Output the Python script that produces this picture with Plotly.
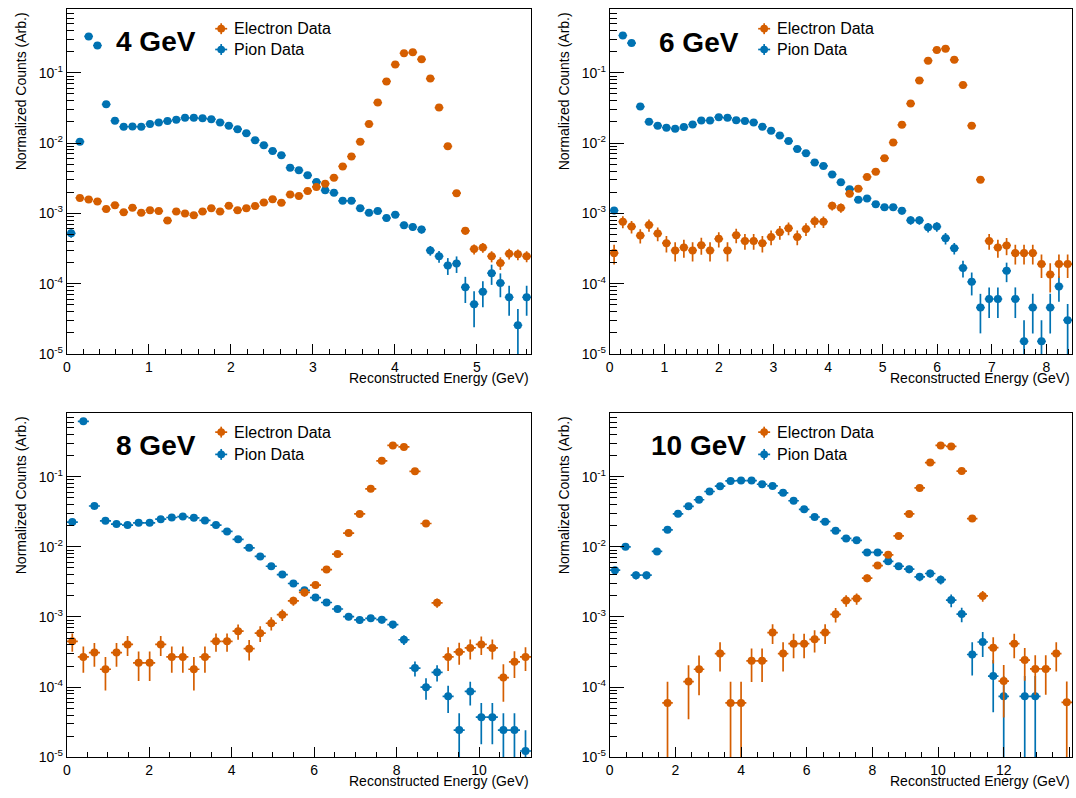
import numpy as np
import plotly.graph_objects as go

# ---------------- data ----------------
# 4 GeV beam
E4_XMAX, E4_NBINS = 5.66, 53
ele4 = [None, 0.00166, 0.00158, 0.00148, 0.00115, 0.00131, 0.00104, 0.0012, 0.00102, 0.00111,
        0.00108, 0.00079, 0.00106, 0.00100, 0.00094, 0.00106, 0.00118, 0.00106, 0.00128, 0.00111,
        0.00118, 0.00127, 0.00143, 0.00159, 0.00142, 0.00185, 0.00177, 0.00209, 0.00238, 0.00265,
        0.00322, 0.00466, 0.00645, 0.0105, 0.0187, 0.0377, 0.0755, 0.131, 0.190, 0.196,
        0.156, 0.083, 0.032, 0.0090, 0.00194, 0.000564, 0.00031, 0.000327, 0.000245, 0.000197,
        0.000267, 0.000261, 0.000245]
ele4_err = [None, 1.16e-4, 1.13e-4, 1.09e-4, 0.96e-4, 1.03e-4, 0.92e-4, 0.98e-4, 0.91e-4, 0.95e-4,
            0.93e-4, 0.8e-4, 0.92e-4, 0.9e-4, 0.87e-4, 0.92e-4, 0.98e-4, 0.92e-4, 1.02e-4, 0.95e-4,
            0.98e-4, 1.01e-4, 1.07e-4, 1.13e-4, 1.07e-4, 1.22e-4, 1.19e-4, 1.3e-4, 1.39e-4, 1.46e-4,
            1.61e-4, 1.94e-4, 2.28e-4, 2.9e-4, 3.9e-4, 5.5e-4, 7.8e-4, 1.03e-3, 1.24e-3, 1.26e-3,
            1.12e-3, 8.2e-4, 5.1e-4, 2.7e-4, 1.25e-4, 0.67e-4, 0.5e-4, 0.51e-4, 0.44e-4, 0.4e-4,
            0.46e-4, 0.46e-4, 0.44e-4]
pion4 = [0.00052, 0.0105, 0.33, 0.245, 0.0357, 0.0208, 0.0171, 0.0172, 0.0171, 0.0187,
         0.0197, 0.0206, 0.0215, 0.0229, 0.0229, 0.0225, 0.0219, 0.0197, 0.0177, 0.0158,
         0.0138, 0.0110, 0.0093, 0.0077, 0.0067, 0.00446, 0.0041, 0.00348, 0.0028, 0.00213,
         0.00196, 0.00151, 0.00151, 0.00118, 0.00102, 0.00108, 0.00086, 0.00096, 0.00068, 0.00064,
         0.00059, 0.000297, 0.000245, 0.000182, 0.000193, 8.9e-5, 5.1e-5, 7.7e-5, 1.41e-4, 1.02e-4,
         6.4e-5, 2.56e-5, 6.4e-5]
pion4_err = [7e-5, 3.2e-4, 1.8e-3, 1.6e-3, 6e-4, 4.6e-4, 4.1e-4, 4.1e-4, 4.1e-4, 4.3e-4,
             4.4e-4, 4.5e-4, 4.6e-4, 4.8e-4, 4.8e-4, 4.7e-4, 4.7e-4, 4.4e-4, 4.2e-4, 4e-4,
             3.7e-4, 3.3e-4, 3e-4, 2.8e-4, 2.6e-4, 2.1e-4, 2e-4, 1.9e-4, 1.7e-4, 1.5e-4,
             1.4e-4, 1.2e-4, 1.2e-4, 1.1e-4, 1e-4, 1e-4, 0.93e-4, 0.98e-4, 0.82e-4, 0.8e-4,
             0.77e-4, 0.47e-4, 0.46e-4, 0.49e-4, 0.51e-4, 3.6e-5, 2.7e-5, 3.1e-5, 4.5e-5, 3.8e-5,
             2.9e-5, 1.8e-5, 2.9e-5]

# 6 GeV beam
E6_XMAX, E6_NBINS = 8.47, 53
ele6 = [0.000272, 0.000762, 0.000648, 0.000484, 0.000684, 0.000516, 0.000377, 0.000297, 0.000327, 0.000297,
        0.000353, 0.000297, 0.000434, 0.000297, 0.000489, 0.000406, 0.000406, 0.000377, 0.000463, 0.00054,
        0.000614, 0.000463, 0.0006, 0.00077, 0.000762, 0.00128, 0.0012, 0.00191, 0.00225, 0.0033,
        0.00392, 0.00611, 0.0102, 0.0182, 0.0365, 0.078, 0.149, 0.211, 0.221, 0.153,
        0.067, 0.0177, 0.00302, 0.000406, 0.000327, 0.00035, 0.000272, 0.000272, 0.000272, 0.00019,
        0.000135, 0.00019, 0.00019]
ele6_err = [0.85e-4, 1.5e-4, 1.3e-4, 1.1e-4, 1.35e-4, 1.15e-4, 1.0e-4, 0.9e-4, 0.93e-4, 0.9e-4,
            0.96e-4, 0.9e-4, 1.07e-4, 0.9e-4, 1.13e-4, 1.03e-4, 1.03e-4, 1.0e-4, 1.1e-4, 1.2e-4,
            1.27e-4, 1.1e-4, 1.25e-4, 1.43e-4, 1.42e-4, 1.8e-4, 1.8e-4, 2.2e-4, 2.4e-4, 3e-4,
            3.2e-4, 4e-4, 5e-4, 7e-4, 1e-3, 1.4e-3, 2e-3, 2.4e-3, 2.4e-3, 2e-3,
            1.3e-3, 7e-4, 2.8e-4, 1.03e-4, 0.93e-4, 0.96e-4, 0.85e-4, 0.85e-4, 0.85e-4, 0.7e-4,
            0.6e-4, 0.7e-4, 0.7e-4]
pion6 = [0.0011, 0.34, 0.265, 0.0331, 0.0201, 0.0177, 0.0166, 0.016, 0.0169, 0.0184,
         0.021, 0.021, 0.0234, 0.0229, 0.0212, 0.0206, 0.0197, 0.0171, 0.015, 0.0128,
         0.0107, 0.00828, 0.00719, 0.0053, 0.00474, 0.00359, 0.00277, 0.00221, 0.00156, 0.00163,
         0.00135, 0.00122, 0.00122, 0.00109, 0.000797, 0.000797, 0.000634, 0.000648, 0.000444, 0.00032,
         0.000167, 0.000106, 4.56e-5, 6.04e-5, 6.04e-5, 0.000152, 6.04e-5, 1.51e-5, 4.56e-5, 1.51e-5,
         4.56e-5, 9.12e-5, 3.02e-5]
pion6_err = [1.29e-4, 2.27e-3, 2e-3, 7.1e-4, 5.5e-4, 5.2e-4, 5e-4, 4.9e-4, 5.1e-4, 5.3e-4,
             5.6e-4, 5.6e-4, 6e-4, 5.9e-4, 5.7e-4, 5.6e-4, 5.5e-4, 5.1e-4, 4.8e-4, 4.4e-4,
             4e-4, 3.5e-4, 3.3e-4, 2.85e-4, 2.7e-4, 2.3e-4, 2.05e-4, 1.83e-4, 1.54e-4, 1.57e-4,
             1.43e-4, 1.36e-4, 1.36e-4, 1.29e-4, 1.1e-4, 1.1e-4, 0.98e-4, 0.99e-4, 0.83e-4, 0.6e-4,
             0.45e-4, 3.8e-5, 2.6e-5, 2.8e-5, 2.8e-5, 4.7e-5, 2.8e-5, 1.5e-5, 2.6e-5, 1.5e-5,
             2.6e-5, 3.6e-5, 2.1e-5]

# 8 GeV beam
E8_XMAX, E8_NBINS = 11.26, 42
ele8 = [0.00045, 0.00027, 0.000311, 0.00018, 0.000311, 0.000407, 0.000222, 0.000222, 0.000407, 0.00027,
        0.00027, 0.00018, 0.00027, 0.00045, 0.00045, 0.000628, 0.000354, 0.000589, 0.000815, 0.00108,
        0.0017, 0.00224, 0.00285, 0.00474, 0.00788, 0.0157, 0.0294, 0.067, 0.168, 0.279,
        0.265, 0.119, 0.0215, 0.00159, 0.00027, 0.000318, 0.000362, 0.000407, 0.000362, 0.000137,
        0.00023, 0.00027]
ele8_err = [1.3e-4, 1.1e-4, 1.15e-4, 0.9e-4, 1.15e-4, 1.3e-4, 1.0e-4, 1.0e-4, 1.3e-4, 1.1e-4,
            1.1e-4, 0.9e-4, 1.1e-4, 1.3e-4, 1.3e-4, 1.55e-4, 1.15e-4, 1.5e-4, 1.75e-4, 2e-4,
            2.5e-4, 2.9e-4, 3.3e-4, 4.2e-4, 5.4e-4, 7.7e-4, 1.05e-3, 1.6e-3, 2.5e-3, 3.2e-3,
            3.2e-3, 2.1e-3, 9e-4, 2.4e-4, 1.0e-4, 1.1e-4, 1.15e-4, 1.2e-4, 1.15e-4, 0.75e-4,
            0.95e-4, 1.0e-4]
pion8 = [0.0225, 0.615, 0.0382, 0.0235, 0.0211, 0.0204, 0.022, 0.022, 0.0248, 0.0262,
         0.027, 0.0259, 0.0238, 0.0204, 0.0166, 0.0128, 0.00968, 0.00731, 0.00529, 0.00403,
         0.003, 0.0024, 0.00189, 0.00161, 0.0013, 0.00101, 0.000908, 0.000958, 0.000917, 0.00078,
         0.000474, 0.000187, 0.0001, 0.000163, 7.4e-5, 2.45e-5, 8.7e-5, 3.74e-5, 3.74e-5, 2.45e-5,
         2.45e-5, 1.23e-5]
pion8_err = [5.3e-4, 2.76e-3, 6.9e-4, 5.4e-4, 5.1e-4, 5e-4, 5.2e-4, 5.2e-4, 5.5e-4, 5.7e-4,
             5.8e-4, 5.65e-4, 5.4e-4, 5e-4, 4.5e-4, 4e-4, 3.5e-4, 3e-4, 2.55e-4, 2.2e-4,
             1.9e-4, 1.7e-4, 1.5e-4, 1.4e-4, 1.27e-4, 1.1e-4, 1.06e-4, 1.09e-4, 1.06e-4, 0.98e-4,
             0.76e-4, 0.45e-4, 3.4e-5, 4.3e-5, 3.1e-5, 1.8e-5, 3.2e-5, 2.2e-5, 2.2e-5, 1.8e-5,
             1.8e-5, 1.2e-5]

# 10 GeV beam
E10_XMAX, E10_NBINS = 14.08, 44
ele10 = [None, None, None, None, None, 5.96e-5, None, 0.00012, 0.00018, None,
         0.000301, 5.96e-5, 5.96e-5, 0.000237, 0.000237, 0.0006, 0.000301, 0.000417, 0.000417, 0.00048,
         0.0006, 0.00109, 0.00172, 0.00183, 0.00358, 0.0054, 0.0077, 0.0143, 0.0294, 0.0692,
         0.159, 0.279, 0.27, 0.12, 0.0253, 0.002, 0.000366, 0.000122, 0.000417, 0.000243,
         0.000182, 0.000182, 0.000301, 6.08e-5]
ele10_err = [None, None, None, None, None, 6e-5, None, 0.85e-4, 1.03e-4, None,
             1.34e-4, 6e-5, 6e-5, 1.19e-4, 1.19e-4, 1.89e-4, 1.34e-4, 1.58e-4, 1.58e-4, 1.69e-4,
             1.89e-4, 2.55e-4, 3.2e-4, 3.3e-4, 4.6e-4, 5.7e-4, 6.8e-4, 9.2e-4, 1.3e-3, 2e-3,
             3.1e-3, 4.1e-3, 4e-3, 2.7e-3, 1.23e-3, 3.45e-4, 1.48e-4, 0.85e-4, 1.58e-4, 1.2e-4,
             1.04e-4, 1.04e-4, 1.34e-4, 6e-5]
pion10 = [0.00465, 0.01, 0.00394, 0.00394, 0.0086, 0.0175, 0.0295, 0.0378, 0.0469, 0.0615,
          0.0731, 0.0869, 0.088, 0.088, 0.078, 0.0739, 0.0589, 0.0454, 0.0343, 0.0266,
          0.0228, 0.017, 0.0132, 0.0124, 0.00832, 0.00832, 0.00621, 0.00529, 0.0048, 0.00374,
          0.00417, 0.0034, 0.00174, 0.0011, 0.000292, 0.00044, 0.000144, 7.4e-5, None, 7.4e-5,
          7.4e-5, None, None, None]
pion10_err = [5.7e-4, 8.3e-4, 5.2e-4, 5.2e-4, 7.7e-4, 1.1e-3, 1.43e-3, 1.62e-3, 1.8e-3, 2.07e-3,
              2.25e-3, 2.46e-3, 2.47e-3, 2.47e-3, 2.33e-3, 2.27e-3, 2.02e-3, 1.78e-3, 1.54e-3, 1.36e-3,
              1.26e-3, 1.09e-3, 9.6e-4, 9.3e-4, 7.6e-4, 7.6e-4, 6.6e-4, 6.1e-4, 5.8e-4, 5.1e-4,
              5.4e-4, 4.9e-4, 3.6e-4, 2.6e-4, 1.45e-4, 1.7e-4, 1.0e-4, 7e-5, None, 7e-5,
              7e-5, None, None, None]

panel_labels = ['4 GeV', '6 GeV', '8 GeV', '10 GeV']
legend_names = ['Electron Data', 'Pion Data']
y_tick_vals = [1e-5, 1e-4, 1e-3, 1e-2, 1e-1]
y_tick_text = ['10<sup>-5</sup>', '10<sup>-4</sup>', '10<sup>-3</sup>', '10<sup>-2</sup>', '10<sup>-1</sup>']
x_title = 'Reconstructed Energy (GeV)'
y_title = 'Normalized Counts (Arb.)'

# ---------------- style / layout ----------------
W, H = 1076, 798
ORANGE = '#D55E00'
BLUE = '#0072B2'
FONT = 'Liberation Sans, Arial, Helvetica, sans-serif'

panels = [
    dict(xmax=E4_XMAX, nb=E4_NBINS, ele=ele4, ele_err=ele4_err, pion=pion4, pion_err=pion4_err,
         box=(63, 529, 9, 357.5), xdt=1, xminor=0.2, lab=(110, 42), leg_y=(29, 50)),
    dict(xmax=E6_XMAX, nb=E6_NBINS, ele=ele6, ele_err=ele6_err, pion=pion6, pion_err=pion6_err,
         box=(608, 1072, 9, 357.5), xdt=1, xminor=0.2, lab=(655, 43), leg_y=(29, 50)),
    dict(xmax=E8_XMAX, nb=E8_NBINS, ele=ele8, ele_err=ele8_err, pion=pion8, pion_err=pion8_err,
         box=(63, 529, 417, 765), xdt=2, xminor=0.5, lab=(110, 450), leg_y=(436.5, 459)),
    dict(xmax=E10_XMAX, nb=E10_NBINS, ele=ele10, ele_err=ele10_err, pion=pion10, pion_err=pion10_err,
         box=(608, 1072, 417, 765), xdt=2, xminor=0.5, lab=(647, 450), leg_y=(436.5, 459)),
]

def px(x):
    return x / W

def py(y):
    return 1 - y / H

minor_y = [m * 10.0 ** k for k in range(-5, 0) for m in range(2, 10)]

fig = go.Figure()
layout = dict(width=W, height=H, margin=dict(l=0, r=0, t=0, b=0, pad=0), autosize=False,
              paper_bgcolor='white', plot_bgcolor='white', showlegend=False,
              font=dict(family=FONT, color='black', size=14))
shapes = []
annotations = []

for i, p in enumerate(panels):
    n = i + 1
    xa = 'x' if n == 1 else f'x{n}'
    ya = 'y' if n == 1 else f'y{n}'
    x0, x1, y0, y1 = p['box']
    bw = p['xmax'] / p['nb']
    xc = (np.arange(p['nb']) + 0.5) * bw

    for vals, errs, col in ((p['pion'], p['pion_err'], BLUE), (p['ele'], p['ele_err'], ORANGE)):
        fig.add_trace(go.Scatter(
            x=xc, y=vals, mode='markers', xaxis=xa, yaxis=ya, showlegend=False,
            marker=dict(color=col, size=8, line=dict(width=0)),
            error_y=dict(type='data', array=errs, color=col, thickness=1.7, width=0),
            error_x=dict(type='constant', value=bw / 2, color=col, thickness=1.7, width=0),
        ))

    xkey = 'xaxis' if n == 1 else f'xaxis{n}'
    ykey = 'yaxis' if n == 1 else f'yaxis{n}'
    layout[xkey] = dict(domain=[px(x0), px(x1)], anchor=ya, range=[0, p['xmax']],
                        showline=True, mirror=True, linecolor='black', linewidth=1,
                        showgrid=False, zeroline=False, ticks='inside', ticklen=10, tickwidth=1,
                        tickcolor='black', tick0=0, dtick=p['xdt'],
                        tickfont=dict(family=FONT, size=14, color='black'),
                        minor=dict(ticks='inside', ticklen=5, tickwidth=1, tickcolor='black',
                                   dtick=p['xminor'], tick0=0, showgrid=False))
    layout[ykey] = dict(domain=[py(y1), py(y0)], anchor=xa, type='log', range=[-5, -0.09],
                        showline=True, mirror=True, linecolor='black', linewidth=1,
                        showgrid=False, zeroline=False, ticks='inside', ticklen=14, tickwidth=1,
                        tickcolor='black', tickmode='array', tickvals=y_tick_vals, ticktext=y_tick_text,
                        tickfont=dict(family=FONT, size=14, color='black'),
                        minor=dict(ticks='inside', ticklen=7, tickwidth=1, tickcolor='black',
                                   tickmode='array', tickvals=minor_y, showgrid=False))

    # panel label
    annotations.append(dict(x=px(p['lab'][0]), y=py(p['lab'][1]), xref='paper', yref='paper',
                            text='<b>' + panel_labels[i] + '</b>', showarrow=False,
                            xanchor='left', yanchor='middle',
                            font=dict(family=FONT, size=28, color='black')))
    # axis titles
    annotations.append(dict(x=px(x0 - 46.5), y=py(y0 + 1), xref='paper', yref='paper',
                            text=y_title, textangle=-90, showarrow=False,
                            xanchor='center', yanchor='top',
                            font=dict(family=FONT, size=14, color='black')))
    annotations.append(dict(x=px(x1), y=py(y1 + 24), xref='paper', yref='paper',
                            text=x_title, showarrow=False, xanchor='right', yanchor='middle',
                            font=dict(family=FONT, size=14, color='black')))
    # legend (ROOT style: marker with error cross)
    mx = x0 + 155
    for name, col, ly in ((legend_names[0], ORANGE, p['leg_y'][0]), (legend_names[1], BLUE, p['leg_y'][1])):
        shapes.append(dict(type='line', xref='paper', yref='paper', x0=px(mx - 6), x1=px(mx + 6),
                           y0=py(ly), y1=py(ly), line=dict(color=col, width=1.7)))
        shapes.append(dict(type='line', xref='paper', yref='paper', x0=px(mx), x1=px(mx),
                           y0=py(ly - 5.5), y1=py(ly + 5.5), line=dict(color=col, width=1.7)))
        shapes.append(dict(type='circle', xref='paper', yref='paper', x0=px(mx - 3.9), x1=px(mx + 3.9),
                           y0=py(ly + 3.9), y1=py(ly - 3.9), fillcolor=col, line=dict(width=0)))
        annotations.append(dict(x=px(mx + 11), y=py(ly), xref='paper', yref='paper', text=name,
                                showarrow=False, xanchor='left', yanchor='middle',
                                font=dict(family=FONT, size=16, color='black')))

layout['shapes'] = shapes
layout['annotations'] = annotations
fig.update_layout(**layout)

# remove the browser's default 8 px body margin so the figure fills the window exactly
fig.write_html('out.html', config={'displayModeBar': False},
               post_script="document.body.style.margin='0';document.body.style.overflow='hidden';")
